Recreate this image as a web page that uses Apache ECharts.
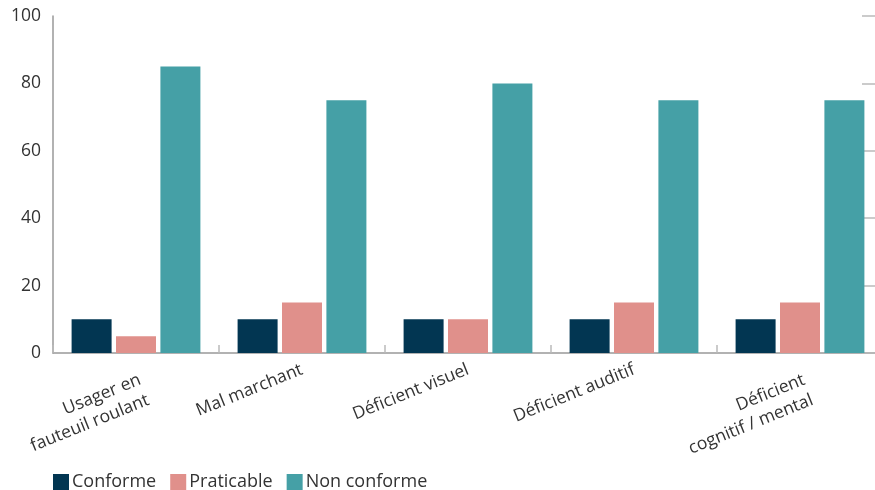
<!DOCTYPE html>
<html><head><meta charset="utf-8">
<script src="https://cdn.jsdelivr.net/npm/echarts@6/dist/echarts.min.js"></script>
<style>html,body{margin:0;padding:0;background:#fff}#c{width:875px;height:490px}</style>
</head><body><div id="c"></div>
<script>
const categories = ["Usager en\nfauteuil roulant", "Mal marchant", "Déficient visuel", "Déficient auditif", "Déficient\ncognitif / mental"];
const conforme = [10, 10, 10, 10, 10];
const praticable = [5, 15, 10, 15, 15];
const nonConforme = [85, 75, 80, 75, 75];
const seriesNames = ["Conforme", "Praticable", "Non conforme"];
const yTicks = [0, 20, 40, 60, 80, 100];
const colors = ["#023652", "#E0908B", "#45A0A6"];

const categoryItems = categories.map(c => c.indexOf('\n') >= 0
  ? {value: c, textStyle: {verticalAlign: 'top'}}
  : {value: c});

const chart = echarts.init(document.getElementById('c'));
const font = 'Open Sans';
chart.setOption({
  animation: false,
  textStyle: {fontFamily: font},
  color: colors,
  grid: {left: 53, top: 16, width: 830, height: 337, outerBoundsMode: 'none', containLabel: false},
  legend: {
    left: 53, top: 473, padding: 0, itemWidth: 16, itemHeight: 16, itemGap: 14,
    icon: 'rect',
    textStyle: {fontSize: 18, color: '#333', fontFamily: font, padding: [0, 0, 0, -2]},
    data: seriesNames
  },
  xAxis: {
    type: 'category', data: categoryItems,
    axisLine: {lineStyle: {color: '#999', width: 1.5}},
    axisTick: {show: true, inside: true, length: 8, lineStyle: {color: '#bbb', width: 1.5}},
    axisLabel: {rotate: 22, fontSize: 17.5, color: '#333', margin: 16, lineHeight: 22, fontFamily: font}
  },
  yAxis: [{
    type: 'value', min: yTicks[0], max: yTicks[yTicks.length - 1], interval: 20,
    axisLine: {show: true, lineStyle: {color: '#999', width: 1.5}},
    axisTick: {show: false},
    splitLine: {show: false},
    axisLabel: {fontSize: 17.5, color: '#333', margin: 12, fontFamily: font}
  }, {
    type: 'value', position: 'right', min: yTicks[0], max: yTicks[yTicks.length - 1], interval: 20,
    axisLine: {show: false},
    axisTick: {show: true, inside: true, length: 21, lineStyle: {color: '#bbb', width: 1.5}},
    splitLine: {show: false},
    axisLabel: {show: false}
  }],
  series: [
    {name: seriesNames[0], type: 'bar', data: conforme, barWidth: 40, barGap: '11%'},
    {name: seriesNames[1], type: 'bar', data: praticable, barWidth: 40, barGap: '11%'},
    {name: seriesNames[2], type: 'bar', data: nonConforme, barWidth: 40, barGap: '11%'}
  ]
});
</script></body></html>
